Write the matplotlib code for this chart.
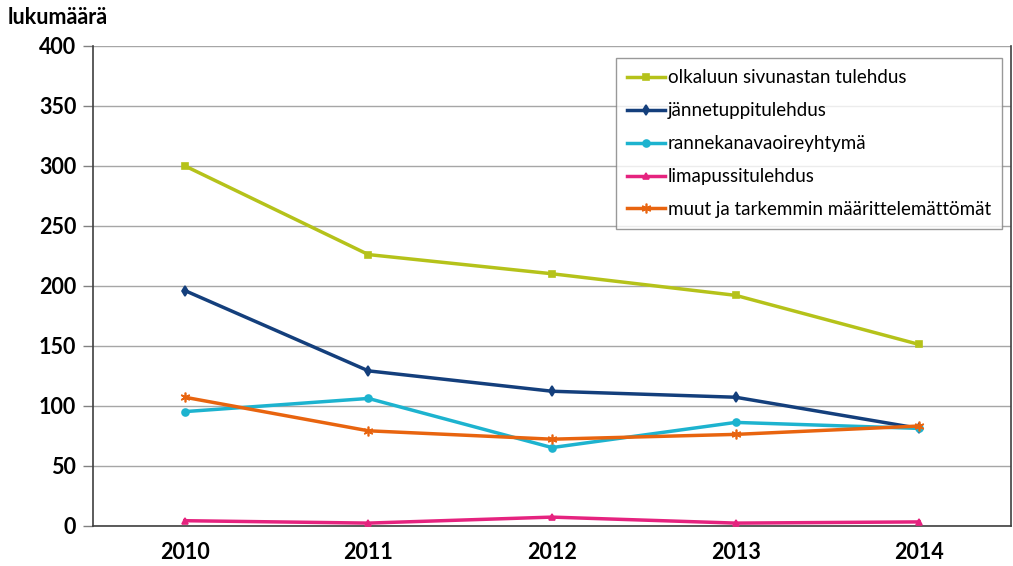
import matplotlib
matplotlib.use("Agg")
import matplotlib.pyplot as plt

years = ["2010", "2011", "2012", "2013", "2014"]
olkaluu = [300, 226, 210, 192, 151]
janne = [196, 129, 112, 107, 81]
ranne = [95, 106, 65, 86, 81]
lima = [4, 2, 7, 2, 3]
muut = [107, 79, 72, 76, 83]

labels = ["olkaluun sivunastan tulehdus", "jännetuppitulehdus",
          "rannekanavaoireyhtymä", "limapussitulehdus",
          "muut ja tarkemmin määrittelemättömät"]
colors = ["#B5C21A", "#143F7C", "#1DB3CF", "#E5237F", "#E8640F"]
markers = ["s", "d", "o", "^", (6, 2, 0)]
msizes = [5, 5, 5, 5, 7]
series = [olkaluu, janne, ranne, lima, muut]

plt.rcParams['font.family'] = ['Lato', 'DejaVu Sans']

fig = plt.figure(figsize=(10.13, 5.66), dpi=100)
ax = fig.add_axes([93/1013, 1-525.5/566, (1011-93)/1013, (525.5-46)/566])

x = list(range(len(years)))
for s, lab, c, m, ms in zip(series, labels, colors, markers, msizes):
    ax.plot(x, s, color=c, lw=2.5, marker=m, markersize=ms,
            markeredgewidth=1.2, label=lab, zorder=3)

ax.set_xlim(-0.5, 4.5)
ax.set_ylim(0, 400)
ax.set_yticks(range(0, 401, 50))
ax.set_xticks(x)
ax.set_xticklabels(years)
ax.yaxis.grid(True, color="#A6A6A6", lw=1)
ax.set_axisbelow(True)
for sp in ["left", "bottom", "right"]:
    ax.spines[sp].set_color("#404040")
    ax.spines[sp].set_linewidth(1.2)
ax.spines["top"].set_visible(False)
ax.tick_params(axis="x", length=0, pad=12, labelsize=15.5)
ax.tick_params(axis="y", length=7, width=1, color="#808080", pad=5, labelsize=15.5)
for t in ax.get_xticklabels() + ax.get_yticklabels():
    t.set_fontweight("bold")

fig.text(8/1013, 1-18/566, "lukumäärä", fontsize=15.5, fontweight="bold",
         va="center", ha="left")

leg = ax.legend(loc="upper left", bbox_to_anchor=((616-93)/918, (525.5-58)/479.5),
                frameon=True, fancybox=False, edgecolor="#808080", fontsize=13.5,
                handlelength=2.0, handletextpad=0.15, labelspacing=0.85,
                borderpad=0.6, borderaxespad=0)
leg.get_frame().set_linewidth(1)

fig.savefig("out.png", dpi=100)
